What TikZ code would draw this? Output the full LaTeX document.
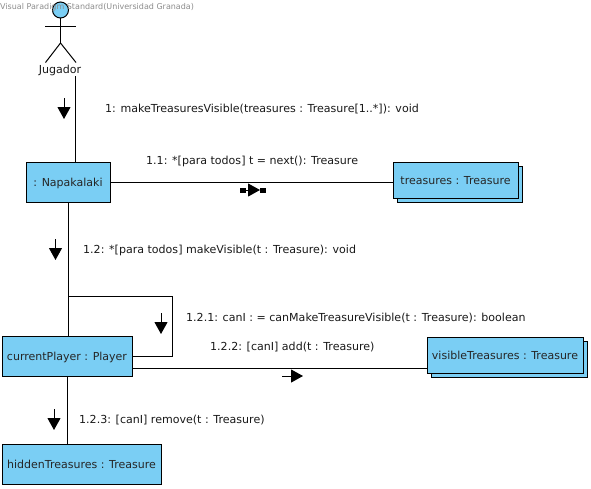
\documentclass[tikz,border=0pt]{standalone}
\usepackage{fontspec}
\setmainfont{DejaVu Sans}
\usetikzlibrary{arrows.meta,shadows}
\definecolor{boxblue}{HTML}{7ACEF4}
\tikzset{
  objbox/.style={draw=black, fill=boxblue, line width=1pt, inner sep=0pt, text=black!85,
    text height=8pt, text depth=0pt, font=\fontsize{11}{13}\selectfont},
  multibox/.style={objbox, copy shadow={shadow xshift=4pt, shadow yshift=-4pt, draw=black, fill=boxblue}},
  msglabel/.style={anchor=west, inner sep=0pt, text=black!90, text height=8pt, text depth=0pt,
    font=\fontsize{11.05}{13}\selectfont},
  msgarrow/.style={line width=1pt, -{Triangle[width=13pt,length=12pt]}},
  link/.style={line width=1pt}
}
\begin{document}
\begin{tikzpicture}[x=1pt,y=-1pt]

  \useasboundingbox (0,0) rectangle (591,488);

  % actor
  \draw[fill=boxblue, line width=1pt] (60.5,10) circle (8);
  \draw[link] (60.5,18) -- (60.5,43);
  \draw[link] (45,26) -- (76,26);
  \draw[link] (45.5,62.5) -- (60.5,43) -- (76,62.5);
  \node[msglabel, anchor=center] (jugador) at (60,69.5) {Jugador};
  \node[anchor=west, inner sep=0pt, text=black!45, font=\fontsize{8}{10}\selectfont] (watermark) at (0,7)
    {Visual Paradigm Standard(Universidad Granada)};

  % objects
  \node[objbox, minimum width=84pt, minimum height=40pt] (napakalaki) at (68,182) {: Napakalaki};
  \node[multibox, minimum width=125pt, minimum height=36pt] (treasures) at (455.5,180) {treasures : Treasure};
  \node[objbox, minimum width=130pt, minimum height=40pt] (currentPlayer) at (67,356) {currentPlayer : Player};
  \node[multibox, minimum width=156pt, minimum height=36pt] (visibleTreasures) at (505,355) {visibleTreasures : Treasure};
  \node[objbox, minimum width=159pt, minimum height=40pt] (hiddenTreasures) at (81.5,464) {hiddenTreasures : Treasure};

  % links
  \coordinate (jugadorEnd) at (75,76);
  \draw[link] (jugadorEnd) -- (napakalaki.north -| jugadorEnd);
  \draw[link] (napakalaki.east) -- (treasures.west |- napakalaki.east);
  \draw[link] (napakalaki.south) -- (currentPlayer.north -| napakalaki.south);
  \coordinate (loopStart) at (68,296);
  \coordinate (loopCorner) at (172,296);
  \draw[link] (loopStart) -- (loopCorner) -- (currentPlayer.east -| loopCorner) -- (currentPlayer.east);
  \coordinate (visibleEnd) at (427,368);
  \draw[link] (currentPlayer.east |- visibleEnd) -- (visibleEnd);
  \draw[link] (currentPlayer.south) -- (hiddenTreasures.north -| currentPlayer.south);

  % message arrows
  \draw[msgarrow] (64,98) -- (64,119);
  \draw[msgarrow] (55.5,239) -- (55.5,260);
  \draw[msgarrow] (161,313) -- (161,334);
  \draw[msgarrow] (282,376) -- (303,376);
  \draw[msgarrow] (54,409) -- (54,430);
  \draw[msgarrow] (243,190) -- (260,190);
  \fill (239.5,187.5) rectangle (246,193);
  \fill (260,187.5) rectangle (266,193);

  % messages
  \node[msglabel] (msgA) at (105,108) {1: makeTreasuresVisible(treasures : Treasure[1..*]): void};
  \node[msglabel] (msgB) at (146,160) {1.1: *[para todos] t = next(): Treasure};
  \node[msglabel] (msgC) at (83,249) {1.2: *[para todos] makeVisible(t : Treasure): void};
  \node[msglabel] (msgD) at (186,317) {1.2.1: canI : = canMakeTreasureVisible(t : Treasure): boolean};
  \node[msglabel] (msgE) at (210,346) {1.2.2: [canI] add(t : Treasure)};
  \node[msglabel] (msgF) at (79,419) {1.2.3: [canI] remove(t : Treasure)};

\end{tikzpicture}
\end{document}
